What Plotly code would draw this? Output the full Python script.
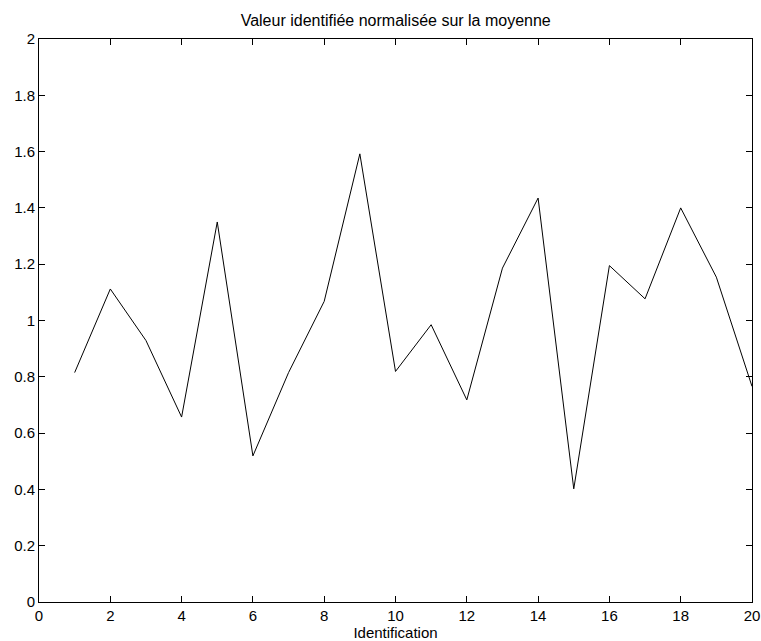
import plotly.graph_objects as go

ids = list(range(1, 21))
values = [0.815, 1.112, 0.929, 0.657, 1.350, 0.519, 0.815, 1.068, 1.592, 0.819,
          0.985, 0.718, 1.186, 1.435, 0.402, 1.195, 1.077, 1.400, 1.154, 0.766]
x_ticks = list(range(0, 21, 2))
y_ticks = [0, 0.2, 0.4, 0.6, 0.8, 1, 1.2, 1.4, 1.6, 1.8, 2]
y_ticklabels = ["0", "0.2", "0.4", "0.6", "0.8", "1", "1.2", "1.4", "1.6", "1.8", "2"]

fam = "Liberation Sans, Arial, Helvetica, sans-serif"
fig = go.Figure(go.Scatter(x=ids, y=values, mode="lines",
                           line=dict(color="black", width=1), showlegend=False))

font = dict(family=fam, size=15, color="black")
axis_common = dict(showline=True, linecolor="black", linewidth=1, mirror="ticks",
                   ticks="inside", ticklen=6, tickcolor="black", tickwidth=1,
                   showgrid=False, zeroline=False, tickfont=font, automargin=False)

fig.update_layout(
    width=761, height=641,
    margin=dict(l=39, r=9, t=39, b=39),
    paper_bgcolor="white", plot_bgcolor="white",
    title=dict(text="Valeur identifiée normalisée sur la moyenne", x=0.52, xanchor="center",
               y=1 - 20 / 641, yanchor="middle",
               font=dict(family=fam, size=16, color="black")),
    xaxis=dict(range=[0, 20], tickvals=x_ticks, ticktext=[str(v) for v in x_ticks],
               title=dict(text="Identification", standoff=0,
                          font=dict(family=fam, size=15, color="black")),
               **axis_common),
    yaxis=dict(range=[0, 2], tickvals=y_ticks, ticktext=y_ticklabels, **axis_common),
)

fig.write_html("out.html")
